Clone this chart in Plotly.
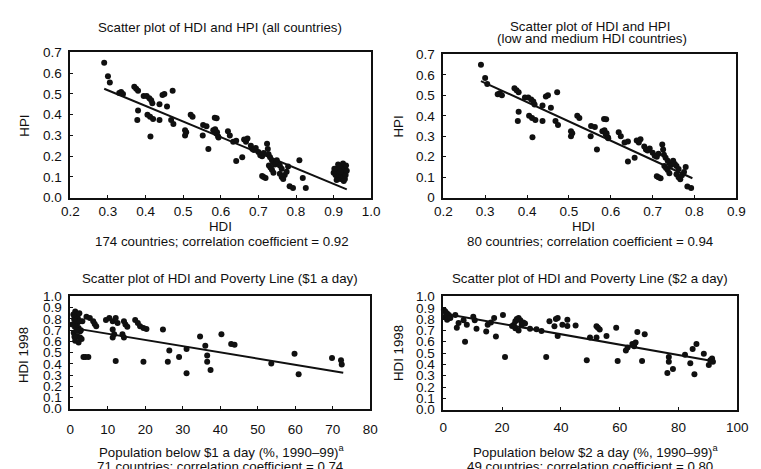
import plotly.graph_objects as go

# ---------------- data ----------------
# HDI vs HPI, all countries
hdi_all = [0.29, 0.30, 0.305, 0.33, 0.335, 0.34, 0.37, 0.375, 0.38, 0.38, 0.378,
           0.395, 0.403, 0.41, 0.415, 0.418, 0.405, 0.412, 0.42, 0.413, 0.437,
           0.437, 0.445, 0.45, 0.457, 0.472, 0.468, 0.474, 0.505, 0.505, 0.508,
           0.52, 0.525, 0.553, 0.562, 0.552, 0.567, 0.584, 0.58, 0.588, 0.593,
           0.589, 0.585, 0.59, 0.594, 0.619, 0.624, 0.633, 0.641, 0.641, 0.657,
           0.662, 0.667, 0.671, 0.68, 0.684, 0.688, 0.693, 0.70, 0.705, 0.71,
           0.714, 0.723, 0.725, 0.727, 0.71, 0.714, 0.719, 0.731, 0.736, 0.74,
           0.744, 0.736, 0.74, 0.749, 0.753, 0.757, 0.762, 0.757, 0.762, 0.766,
           0.77, 0.779, 0.775, 0.728, 0.732, 0.783, 0.792, 0.809, 0.818, 0.826,
           0.90, 0.905, 0.905, 0.91, 0.91, 0.912, 0.915, 0.918, 0.92, 0.92,
           0.922, 0.925, 0.925, 0.928, 0.93, 0.93, 0.932, 0.935, 0.908, 0.927,
           0.915, 0.902, 0.918, 0.933]
hpi_all = [0.65, 0.585, 0.555, 0.505, 0.51, 0.50, 0.535, 0.525, 0.515, 0.42, 0.375,
           0.49, 0.49, 0.48, 0.47, 0.455, 0.40, 0.39, 0.38, 0.295, 0.375,
           0.45, 0.495, 0.50, 0.44, 0.515, 0.375, 0.355, 0.325, 0.30, 0.315,
           0.40, 0.39, 0.35, 0.345, 0.30, 0.235, 0.385, 0.325, 0.31, 0.295,
           0.383, 0.33, 0.315, 0.29, 0.32, 0.30, 0.27, 0.275, 0.177, 0.195,
           0.28, 0.27, 0.285, 0.25, 0.235, 0.23, 0.24, 0.22, 0.205, 0.20,
           0.215, 0.26, 0.235, 0.21, 0.105, 0.10, 0.095, 0.195, 0.18, 0.17,
           0.16, 0.135, 0.12, 0.18, 0.165, 0.155, 0.14, 0.115, 0.10, 0.09,
           0.11, 0.15, 0.125, 0.155, 0.145, 0.055, 0.047, 0.18, 0.095, 0.047,
           0.12, 0.11, 0.13, 0.10, 0.14, 0.16, 0.12, 0.09, 0.13, 0.11,
           0.15, 0.165, 0.10, 0.12, 0.14, 0.09, 0.11, 0.13, 0.085, 0.08,
           0.15, 0.14, 0.125, 0.155]

# regression lines (end points)
fit_all_x = [0.29, 0.935]
fit_all_y = [0.525, 0.04]
fit_lowmed_x = [0.29, 0.795]
fit_lowmed_y = [0.57, 0.095]

# low and medium HDI countries are the subset below 0.8
hdi_lowmed = [h for h in hdi_all if h < 0.8]
hpi_lowmed = [p for h, p in zip(hdi_all, hpi_all) if h < 0.8]

# Population below $1 a day vs HDI 1998
pov1 = [1.3, 1.5, 2.0, 1.2, 1.8, 2.6, 1.3, 2.2, 0.9, 2.6, 1.8, 2.6, 1.3, 2.2, 3.0,
        0.5, 1.0, 2.8, 1.6, 3.2, 0.8, 2.4, 1.1,
        4.3, 5.2, 6.1, 6.9, 6.5, 3.5, 4.0, 4.8,
        9.5, 10.4, 11.3, 12.1, 12.6, 11.3, 11.7, 11.3,
        14.3, 14.7, 15.2, 13.9, 14.3, 12.1,
        17.3, 18.0, 18.6, 19.5, 20.3, 19.5, 24.7, 26.4, 26.0, 29.0, 31.0, 31.0,
        34.6, 36.0, 36.5, 36.5, 37.4, 40.3, 42.9, 43.8, 53.6, 59.8, 60.9,
        69.8, 72.2, 72.4]
hdi_p1 = [0.865, 0.836, 0.807, 0.79, 0.76, 0.778, 0.735, 0.72, 0.677, 0.69, 0.648,
          0.634, 0.605, 0.59, 0.62,
          0.75, 0.80, 0.70, 0.70, 0.78, 0.84, 0.85, 0.64,
          0.82, 0.807, 0.778, 0.735, 0.755, 0.46, 0.46, 0.46,
          0.79, 0.807, 0.778, 0.807, 0.764, 0.706, 0.663, 0.634,
          0.778, 0.75, 0.73, 0.663, 0.634, 0.424,
          0.79, 0.764, 0.735, 0.72, 0.71, 0.418, 0.706, 0.519, 0.418, 0.46, 0.533,
          0.317, 0.643, 0.56, 0.475, 0.418, 0.346, 0.663, 0.576, 0.57, 0.403,
          0.49, 0.308, 0.452, 0.432, 0.395]
fit_p1_x = [0.5, 72.8]
fit_p1_y = [0.72, 0.32]

# Population below $2 a day vs HDI 1998
pov2 = [0.2, 0.7, 1.3, 0.7, 1.9, 1.3, 2.4, 4.1, 5.2, 4.6, 7.4, 6.9, 8.0,
        10.2, 10.7, 11.3, 14.6, 15.1, 16.2, 17.3, 17.9, 20.3, 21.0,
        23.4, 24.0, 24.5, 25.0, 25.6, 26.2, 26.7, 24.5, 25.6, 26.7, 27.2, 27.8,
        29.5, 31.7, 33.4, 35.0, 36.1, 37.8, 38.3, 38.9, 38.9, 40.5, 42.2, 42.2,
        45.0, 48.8, 49.9, 52.1, 52.6, 52.1, 53.2, 55.5, 58.8, 59.3, 62.1, 62.7,
        64.3, 64.9, 65.4, 66.0, 68.5, 67.6, 76.7, 76.7, 76.2, 78.1, 82.2, 84.0,
        84.8, 86.1, 85.4, 88.6, 90.3, 90.8, 91.4, 91.7]
hdi_p2 = [0.88, 0.866, 0.85, 0.82, 0.837, 0.794, 0.81, 0.837, 0.766, 0.723, 0.6,
          0.79, 0.75, 0.82, 0.79, 0.714, 0.69, 0.75, 0.77, 0.81, 0.646, 0.837,
          0.466, 0.74, 0.75, 0.78, 0.80, 0.81, 0.79, 0.76, 0.72, 0.70, 0.75, 0.77,
          0.76, 0.714, 0.71, 0.694, 0.466, 0.78, 0.737, 0.80, 0.81, 0.65, 0.75,
          0.794, 0.74, 0.743, 0.437, 0.637, 0.737, 0.723, 0.637, 0.709, 0.651,
          0.723, 0.43, 0.523, 0.55, 0.58, 0.56, 0.594, 0.686, 0.666, 0.43, 0.466,
          0.423, 0.323, 0.36, 0.486, 0.41, 0.537, 0.58, 0.314, 0.494, 0.394,
          0.437, 0.451, 0.423]
fit_p2_x = [0.0, 91.5]
fit_p2_y = [0.85, 0.43]

# tick labels
hpi_ticks = [0.0, 0.1, 0.2, 0.3, 0.4, 0.5, 0.6, 0.7]
hpi_labels_all = ["0.0", "0.1", "0.2", "0.3", "0.4", "0.5", "0.6", "0.7"]
hpi_labels_lowmed = ["0", "0.1", "0.2", "0.3", "0.4", "0.5", "0.6", "0.7"]
hdi_ticks_all = [0.2, 0.3, 0.4, 0.5, 0.6, 0.7, 0.8, 0.9, 1.0]
hdi_labels_all = ["0.2", "0.3", "0.4", "0.5", "0.6", "0.7", "0.8", "0.9", "1.0"]
hdi_ticks_lowmed = [0.2, 0.3, 0.4, 0.5, 0.6, 0.7, 0.8, 0.9]
hdi_labels_lowmed = ["0.2", "0.3", "0.4", "0.5", "0.6", "0.7", "0.8", "0.9"]
hdi98_ticks = [0.0, 0.1, 0.2, 0.3, 0.4, 0.5, 0.6, 0.7, 0.8, 0.9, 1.0]
hdi98_labels = ["0.0", "0.1", "0.2", "0.3", "0.4", "0.5", "0.6", "0.7", "0.8", "0.9", "1.0"]
pov1_ticks = [0, 10, 20, 30, 40, 50, 60, 70, 80]
pov2_ticks = [0, 20, 40, 60, 80, 100]

# ---------------- figure ----------------
W, H = 761, 469
FONT = "Liberation Sans, Arial, sans-serif"
INK = "#101010"


def px_x(v):
    return v / W


def px_y(v):
    return 1 - v / H


fig = go.Figure()

panels = [
    (hdi_all, hpi_all, fit_all_x, fit_all_y, "x", "y"),
    (hdi_lowmed, hpi_lowmed, fit_lowmed_x, fit_lowmed_y, "x2", "y2"),
    (pov1, hdi_p1, fit_p1_x, fit_p1_y, "x3", "y3"),
    (pov2, hdi_p2, fit_p2_x, fit_p2_y, "x4", "y4"),
]
for xs, ys, fx, fy, xa, ya in panels:
    fig.add_trace(go.Scatter(x=xs, y=ys, mode="markers", xaxis=xa, yaxis=ya,
                             marker=dict(color=INK, size=6, line=dict(width=0)),
                             showlegend=False, hoverinfo="skip", cliponaxis=False))
    fig.add_trace(go.Scatter(x=fx, y=fy, mode="lines", xaxis=xa, yaxis=ya,
                             line=dict(color=INK, width=2),
                             showlegend=False, hoverinfo="skip"))

axis_style = dict(showline=True, mirror=True, linecolor=INK, linewidth=1.6,
                  ticks="inside", ticklen=3, tickwidth=1, tickcolor=INK,
                  showgrid=False, zeroline=False, tickmode="array",
                  tickfont=dict(family=FONT, size=13.5, color=INK), fixedrange=True)
y_extra = dict(ticklabelstandoff=4)

fig.update_layout(
    width=W, height=H, margin=dict(l=0, r=0, t=0, b=0),
    paper_bgcolor="white", plot_bgcolor="white",
    xaxis=dict(domain=[px_x(63), px_x(372)], range=[0.2, 1.0], anchor="y",
               tickvals=hdi_ticks_all, ticktext=hdi_labels_all, **axis_style),
    yaxis=dict(domain=[px_y(197), px_y(47)], range=[0, 0.7], anchor="x",
               tickvals=hpi_ticks, ticktext=hpi_labels_all, **axis_style, **y_extra),
    xaxis2=dict(domain=[px_x(446), px_x(747)], range=[0.2, 0.9], anchor="y2",
                tickvals=hdi_ticks_lowmed, ticktext=hdi_labels_lowmed, **axis_style),
    yaxis2=dict(domain=[px_y(197), px_y(49)], range=[0, 0.7], anchor="x2",
                tickvals=hpi_ticks, ticktext=hpi_labels_lowmed, **axis_style, **y_extra),
    xaxis3=dict(domain=[px_x(63), px_x(371)], range=[0, 80], anchor="y3",
                tickvals=pov1_ticks, ticktext=[str(t) for t in pov1_ticks],
                ticklabelstandoff=7, **axis_style),
    yaxis3=dict(domain=[px_y(415), px_y(299)], range=[0, 1.0], anchor="x3",
                tickvals=hdi98_ticks, ticktext=hdi98_labels, **axis_style, **y_extra),
    xaxis4=dict(domain=[px_x(446), px_x(748)], range=[0, 100], anchor="y4",
                tickvals=pov2_ticks, ticktext=[str(t) for t in pov2_ticks],
                ticklabelstandoff=4, **axis_style),
    yaxis4=dict(domain=[px_y(416), px_y(299)], range=[0, 1.0], anchor="x4",
                tickvals=hdi98_ticks, ticktext=hdi98_labels, **axis_style, **y_extra),
)

# (text, centre x, y, vertical anchor, angle)
texts = [
    ("Scatter plot of HDI and HPI (all countries)", 217, 21, "middle", 0),
    ("Scatter plot of HDI and HPI", 597, 20, "middle", 0),
    ("(low and medium HDI countries)", 599, 33, "middle", 0),
    ("HDI", 217, 227, "middle", 0),
    ("HDI", 590, 227, "middle", 0),
    ("174 countries; correlation coefficient = 0.92", 219, 242, "middle", 0),
    ("80 countries; correlation coefficient = 0.94", 597, 242, "middle", 0),
    ("Scatter plot of HDI and Poverty Line ($1 a day)", 217, 280, "middle", 0),
    ("Scatter plot of HDI and Poverty Line ($2 a day)", 597, 280, "middle", 0),
    ("Population below $1 a day (%, 1990–99)<sup>a</sup>", 219, 459, "middle", 0),
    ("Population below $2 a day (%, 1990–99)<sup>a</sup>", 603, 459, "middle", 0),
    ("71 countries; correlation coefficient = 0.74", 217, 465, "top", 0),
    ("49 countries; correlation coefficient = 0.80", 597, 465, "top", 0),
    ("HPI", 15, 123, "middle", -90),
    ("HPI", 400, 123, "middle", -90),
    ("HDI 1998", 15, 360, "middle", -90),
    ("HDI 1998", 400, 357, "middle", -90),
]
for txt, cx, cy, va, ang in texts:
    fig.add_annotation(text=txt, x=px_x(cx), y=px_y(cy), xref="paper", yref="paper",
                       xanchor="center", yanchor=va, showarrow=False,
                       textangle=ang,
                       font=dict(family=FONT, size=13.3, color=INK))

fig.write_html("out.html")
